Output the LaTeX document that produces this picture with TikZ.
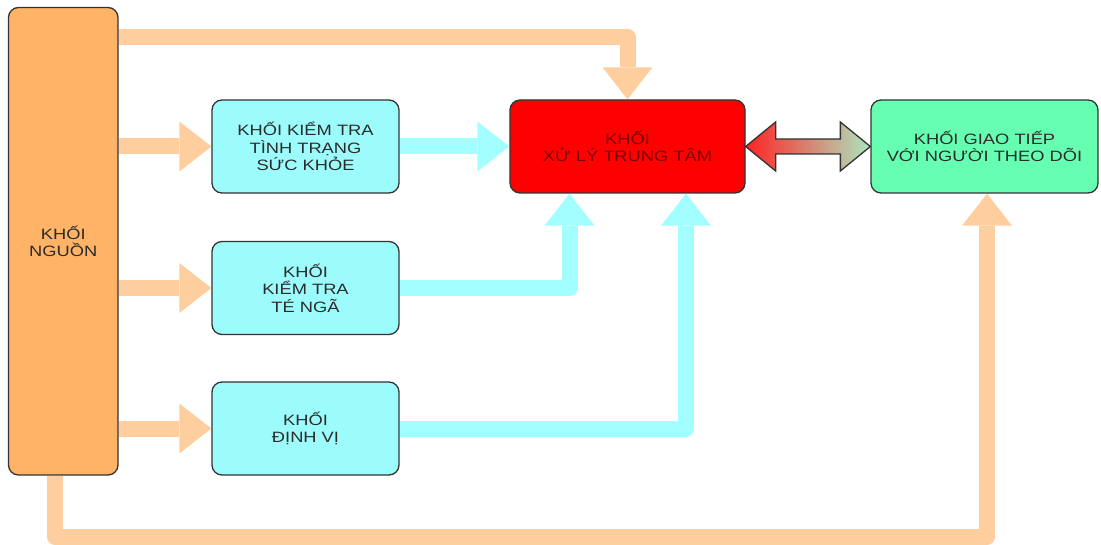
\documentclass[tikz,border=0pt]{standalone}
\usepackage{fontspec}
\setmainfont{Liberation Sans}[FakeStretch=1.22]
\usetikzlibrary{arrows.meta,calc,backgrounds}

\definecolor{srcfill}{HTML}{FFB366}
\definecolor{pipeorange}{HTML}{FFCE9E}
\definecolor{cyanfill}{HTML}{9CFCFC}
\definecolor{pipecyan}{HTML}{A3FFFF}
\definecolor{corered}{HTML}{FF0000}
\definecolor{coretext}{HTML}{7A0000}
\definecolor{linkgreen}{HTML}{66FFB2}
\definecolor{edge}{HTML}{333333}
\definecolor{ink}{HTML}{2B2B2B}

\begin{document}
\begin{tikzpicture}[x=1pt,y=-1pt,
  block/.style={draw=edge, line width=1.3pt, rounded corners=10pt, inner sep=0pt,
    align=center, text=ink, font=\fontsize{15}{17.5}\selectfont},
  pipe/.style={line width=16pt, line join=round,
    -{Triangle[length=32pt,width=50pt,line width=0pt]}},
  powerpipe/.style={pipe, draw=pipeorange},
  datapipe/.style={pipe, draw=pipecyan},
  linkarrow/.style={draw=edge, line width=1.3pt,
    left color={rgb,255:red,255;green,35;blue,35},
    right color={rgb,255:red,172;green,230;blue,192},
    shading angle=90}
]
\useasboundingbox (0,0) rectangle (1101,545);

% blocks
\node[block, fill=srcfill, minimum width=109.5pt, minimum height=467.5pt]
  (src) at (63.25,241.25) {KHỐI\\NGUỒN};
\node[block, fill=cyanfill, minimum width=187pt, minimum height=93pt]
  (hl) at (305.5,146.5) {KHỐI KIỂM TRA\\TÌNH TRẠNG\\SỨC KHỎE};
\node[block, fill=cyanfill, minimum width=187pt, minimum height=93pt]
  (fall) at (305.5,288) {KHỐI\\KIỂM TRA\\TÉ NGÃ};
\node[block, fill=cyanfill, minimum width=187pt, minimum height=93pt]
  (loc) at (305.5,428.5) {KHỐI\\ĐỊNH VỊ};
\node[block, fill=corered, text=coretext, minimum width=235pt, minimum height=93pt]
  (ctr) at (627.5,146.5) {KHỐI\\XỬ LÝ TRUNG TÂM};
\node[block, fill=linkgreen, minimum width=227pt, minimum height=93pt]
  (comm) at (984.5,146.5) {KHỐI GIAO TIẾP\\VỚI NGƯỜI THEO DÕI};

% power and data connectors
\begin{scope}[on background layer]
  \draw[powerpipe] (src.east |- 0,37) -| (ctr.north);
  \draw[powerpipe] (src.east |- hl.west) -- (hl.west);
  \draw[powerpipe] (src.east |- fall.west) -- (fall.west);
  \draw[powerpipe] (src.east |- loc.west) -- (loc.west);
  \draw[powerpipe] ([xshift=-8.5pt]src.south) -- ++(0,61) -| ([xshift=2.5pt]comm.south);

  \draw[datapipe] (hl.east) -- (ctr.west);
  \draw[datapipe] (fall.east) -| ([xshift=-58pt]ctr.south);
  \draw[datapipe] (loc.east) -| ([xshift=58.5pt]ctr.south);
\end{scope}

% two-way link between the processing block and the communication block
\path[linkarrow] (ctr.east) -- ++(30,-24.5) -- ++(0,17)
  -- ($(comm.west)+(-30,-7.5)$) -- ++(0,-17) -- (comm.west)
  -- ++(-30,24.5) -- ++(0,-17)
  -- ($(ctr.east)+(30,7.5)$) -- ++(0,17) -- cycle;
\end{tikzpicture}
\end{document}
